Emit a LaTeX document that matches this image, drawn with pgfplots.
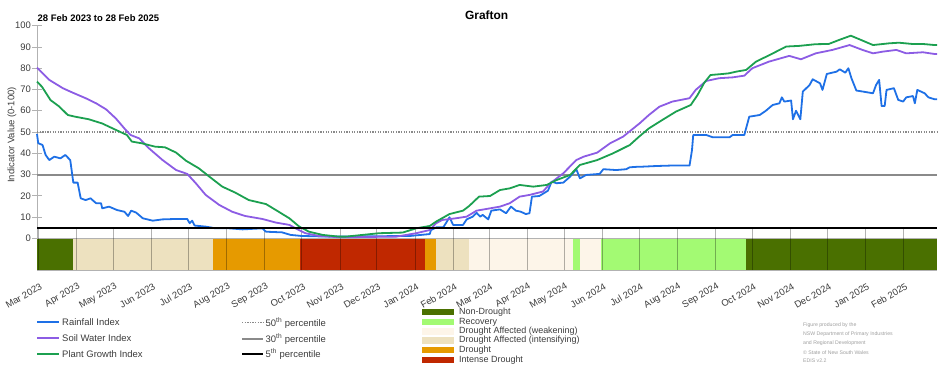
\documentclass[border=0pt]{standalone}
\usepackage{pgfplots}
\pgfplotsset{compat=1.18}
\usepackage{fontspec}
\setmainfont{Liberation Sans}
\definecolor{rain}{RGB}{30,112,230}
\definecolor{soil}{RGB}{140,92,228}
\definecolor{plant}{RGB}{28,160,80}
\definecolor{cND}{RGB}{74,112,0}
\definecolor{cRec}{RGB}{163,250,115}
\definecolor{cWeak}{RGB}{253,245,233}
\definecolor{cInt}{RGB}{237,225,191}
\definecolor{cDr}{RGB}{230,154,0}
\definecolor{cID}{RGB}{192,40,0}
\definecolor{txt}{RGB}{60,60,60}
\definecolor{pct}{RGB}{138,138,138}
\begin{document}
\begin{tikzpicture}
\useasboundingbox (0,0) rectangle (952bp,370bp);
\begin{axis}[
  at={(37bp,99.8bp)}, anchor=south west, scale only axis,
  width=900bp, height=244.5bp,
  xmin=-1, xmax=730, ymin=-15, ymax=100,
  axis lines*=left,
  axis line style={draw=gray!60, line width=0.6bp},
  xtick={0,31,61,92,122,153,184,214,245,275,306,337,366,397,427,458,488,519,550,580,611,641,672,703},
  xticklabels={Mar 2023,Apr 2023,May 2023,Jun 2023,Jul 2023,Aug 2023,Sep 2023,Oct 2023,Nov 2023,Dec 2023,Jan 2024,Feb 2024,Mar 2024,Apr 2024,May 2024,Jun 2024,Jul 2024,Aug 2024,Sep 2024,Oct 2024,Nov 2024,Dec 2024,Jan 2025,Feb 2025},
  xtick style={draw=none},
  xticklabel style={yshift=-11bp, xshift=3bp, rotate=30, anchor=east, inner sep=0pt, font=\fontsize{9.5}{11}\selectfont, text=txt},
  ytick={0,10,...,100},
  ytick style={draw=gray!60, line width=0.6bp},
  major tick length=9bp, tick align=center,
  yticklabel style={font=\fontsize{9.5}{11}\selectfont, text=txt, inner sep=1.5bp},
  /pgf/number format/assume math mode=true,
  clip=false,
]
% drought category band
\addplot[fill=cND, draw=none] coordinates {(-1,-15) (-1,0) (28,0) (28,-15)} --cycle;
\addplot[fill=cInt, draw=none] coordinates {(28,-15) (28,0) (142,0) (142,-15)} --cycle;
\addplot[fill=cDr, draw=none] coordinates {(142,-15) (142,0) (213,0) (213,-15)} --cycle;
\addplot[fill=cID, draw=none] coordinates {(213,-15) (213,0) (314,0) (314,-15)} --cycle;
\addplot[fill=cDr, draw=none] coordinates {(314,-15) (314,0) (323,0) (323,-15)} --cycle;
\addplot[fill=cInt, draw=none] coordinates {(323,-15) (323,0) (350,0) (350,-15)} --cycle;
\addplot[fill=cWeak, draw=none] coordinates {(350,-15) (350,0) (434,0) (434,-15)} --cycle;
\addplot[fill=cRec, draw=none] coordinates {(434,-15) (434,0) (440,0) (440,-15)} --cycle;
\addplot[fill=cWeak, draw=none] coordinates {(440,-15) (440,0) (457,0) (457,-15)} --cycle;
\addplot[fill=cRec, draw=none] coordinates {(457,-15) (457,0) (575,0) (575,-15)} --cycle;
\addplot[fill=cND, draw=none] coordinates {(575,-15) (575,0) (730,0) (730,-15)} --cycle;
\draw[gray!60, line width=0.6bp] (axis cs:-1,0) -- (axis cs:730,0);
\pgfplotsinvokeforeach{0,31,61,92,122,153,184,214,245,275,306,337,366,397,427,458,488,519,550,580,611,641,672,703}{
  \draw[black, opacity=0.3, line width=0.7bp] (axis cs:#1,-15) -- (axis cs:#1,5);
}
% percentile lines
\addplot[pct, line width=1.5bp, dash pattern=on 1.3bp off 1.3bp] coordinates {(-1,50) (730,50)};
\addplot[pct, line width=2bp] coordinates {(-1,30) (730,30)};
% Rainfall
\addplot[rain, line width=1.8bp, line join=round] coordinates {
(-1,49.1) (0,44.7) (3.5,43.9) (6,39.2) (9,36.8) (13,38.4) (18,37.6) (22,39.2) (26,36.8) (28.5,26.2) (32,26.2) (34.5,18.8) (38.5,18) (42.5,18.8) (47,16.5) (51,16.5) (52,14.1) (57.5,14.9) (64,13.3) (70,12.5) (73,10.5) (75.5,13) (79.5,12.1) (85,9.4) (93,8.3) (101,8.9) (112,9.1) (121,9.1) (123,7.1) (125,8.3) (127,6) (136,5.5) (144,4.7) (155,4.7) (166,4.2) (182,4.7) (185,3.1) (198,2.8) (205,1.6) (214,1.1) (236,0.8) (302,1.1) (318,2) (319,3.9) (323.5,5.2) (329,5.2) (331,7) (334,9.9) (337,6.3) (345,6.3) (348,8.9) (353,10.2) (356,12) (359,10.2) (361,11) (365.5,8.9) (368,13) (375,13.6) (380,11.8) (384,14.9) (388,13) (392,12.5) (396,11.4) (399,11.8) (401,19.6) (407,19.9) (414,22.4) (417,26.7) (421,25.9) (426.5,26.2) (432,29) (437,32.5) (440,28.2) (445,29.8) (456,30.3) (459,32.5) (469.5,32.1) (477.5,32.5) (480.5,33.4) (488,33.7) (491,33.7) (502,34) (513,34.2) (529,34.2) (531,41.5) (532,48.6) (542.5,48.6) (548,47.5) (561.5,47.5) (564,48.6) (573.5,48.6) (577.5,57.2) (586,58) (591,60) (596.5,62.7) (602,63.5) (604,66.3) (606,64.3) (611.5,64.8) (613,56) (615.5,60) (619,56) (621,69) (626.5,72.1) (629,74.8) (635,72.9) (637,69.8) (640.5,77.3) (648.5,78.4) (651,79.5) (655.5,77.9) (658,80) (660.5,75.3) (664.5,69.5) (670,69) (678,68.2) (680.5,72.1) (683,74.5) (685,62.2) (687.5,62.2) (689,69.8) (695,70.6) (698.5,65.1) (702.5,64.3) (705,66.3) (710.5,66.9) (712,63.5) (714,69.8) (720,68.2) (723,66.3) (728,65.4) (730,65.4)};
% Soil water
\addplot[soil, line width=1.8bp, line join=round] coordinates {
(-1,80.3) (9,74.5) (20,70.6) (28,68.5) (38.5,65.9) (47,63.5) (55,60.7) (63,56.4) (71,51) (75,48.6) (82,47) (90,42.3) (101,36.8) (112,32.1) (121,30.3) (128,25.9) (136,20.4) (147,15.7) (157.5,12.5) (168,10.5) (182,9.1) (193,7.4) (204,6.3) (209,4.7) (217,2.4) (228,1.1) (244,0.5) (250,0.5) (291,0.8) (307,2.4) (318,3.9) (323,7) (328,8.6) (339,9.4) (348,10.2) (356,13) (367,14.1) (375,14.9) (383,16.5) (391,19.6) (399,20.4) (410,22) (416,25.9) (426.5,30.6) (437,36.8) (443,38.4) (454,40.3) (464.5,44.7) (475,47.8) (488.5,54.1) (496,58) (504.5,61.9) (515,64.3) (529,65.9) (534,69.8) (542.5,74) (553,75.3) (564,75.7) (573.5,76.5) (580,80) (593.5,83.1) (610,85.8) (619.5,84.2) (631.5,87) (645,88.6) (659,90.9) (669.5,88.6) (678,87) (686,87.8) (697,88.6) (705,87) (718.5,87.5) (728,86.7) (730,86.7)};
% Plant growth
\addplot[plant, line width=1.8bp, line join=round] coordinates {
(-1,73.7) (3,71.3) (10,65) (17,62) (24,58) (30,57.2) (41,56) (52,54) (63,51) (72,48.6) (76,45.5) (84,44.7) (95,43.1) (103,42.8) (112,40.3) (120,36.5) (130.5,32.9) (139,29) (149.5,24.3) (160,21.5) (171,18) (185,16.1) (193,13.3) (204,9.4) (212,5.5) (220,3.1) (231,1.6) (244,0.8) (250,0.8) (277,2.4) (296,2.7) (307,4.7) (318,5.8) (323,7.8) (334,11.4) (345,13) (350,15.2) (358,19.6) (367,19.9) (375,22.7) (383,23.5) (391,25.1) (402,24.3) (413,25.1) (421,27.4) (432,29.8) (440,34.5) (454,36.8) (467,40) (480.5,43.9) (488,47.8) (496,51.7) (507,55.7) (518,59.6) (530,62.7) (535.5,67.4) (541,73.2) (546,76.8) (556,77.3) (561,77.6) (567,78.4) (575,79.2) (583,83.1) (594,86.2) (607.5,90.2) (618,90.5) (631.5,91.3) (642,91.4) (650.5,93.3) (660,95.3) (669.5,93) (678,90.9) (691,91.7) (699,92) (710,91.4) (718.5,91.4) (728,90.9) (730,90.9)};
% 5th percentile
\addplot[black, line width=2.2bp] coordinates {(-1,5) (730,5)};
\end{axis}
% titles
\node[font=\bfseries\fontsize{12}{14}\selectfont, inner sep=0] at (486.7bp,355bp) {Grafton};
\node[font=\bfseries\fontsize{9.5}{11}\selectfont, anchor=west, inner sep=0] at (37.5bp,351.7bp) {28 Feb 2023 to 28 Feb 2025};
\node[rotate=90, font=\fontsize{9.5}{11}\selectfont, text=txt, inner sep=0] at (12bp,235bp) {Indicator Value (0-100)};
% legend: indices
\begin{scope}[every node/.style={anchor=west, inner sep=0, font=\fontsize{9.5}{11}\selectfont, text=txt}]
\draw[rain, line width=2bp] (37bp,48.3bp) -- (59bp,48.3bp); \node at (62bp,48.3bp) {Rainfall Index};
\draw[soil, line width=2bp] (37bp,32.3bp) -- (59bp,32.3bp); \node at (62bp,32.3bp) {Soil Water Index};
\draw[plant, line width=2bp] (37bp,16bp) -- (59bp,16bp); \node at (62bp,16bp) {Plant Growth Index};
\draw[pct, line width=1.5bp, dash pattern=on 1.3bp off 1.3bp] (242bp,47.3bp) -- (263bp,47.3bp); \node at (265.5bp,47.3bp) {50\textsuperscript{th} percentile};
\draw[pct, line width=2bp] (242bp,31bp) -- (263bp,31bp); \node at (265.5bp,31bp) {30\textsuperscript{th} percentile};
\draw[black, line width=2bp] (242bp,16bp) -- (263bp,16bp); \node at (265.5bp,16bp) {5\textsuperscript{th} percentile};
\end{scope}
% legend: categories
\begin{scope}[every node/.style={anchor=west, inner sep=0, font=\fontsize{9}{10}\selectfont, text=txt}]
\fill[cND] (421.7bp,54.5bp) rectangle (454bp,61.2bp); \node at (459bp,57.8bp) {Non-Drought};
\fill[cRec] (421.7bp,44.7bp) rectangle (454bp,51.4bp); \node at (459bp,48bp) {Recovery};
\fill[cWeak] (421.7bp,35.2bp) rectangle (454bp,41.9bp); \node at (459bp,38.5bp) {Drought Affected (weakening)};
\fill[cInt] (421.7bp,26.2bp) rectangle (454bp,32.9bp); \node at (459bp,29.5bp) {Drought Affected (intensifying)};
\fill[cDr] (421.7bp,16.7bp) rectangle (454bp,23.4bp); \node at (459bp,20bp) {Drought};
\fill[cID] (421.7bp,6.7bp) rectangle (454bp,13.4bp); \node at (459bp,10bp) {Intense Drought};
\end{scope}
% credit
\begin{scope}[every node/.style={anchor=west, inner sep=0, font=\fontsize{5.2}{6}\selectfont, text=gray!75}]
\node at (803bp,45bp) {Figure produced by the};
\node at (803bp,35.7bp) {NSW Department of Primary Industries};
\node at (803bp,26.7bp) {and Regional Development};
\node at (803bp,17.7bp) {© State of New South Wales};
\node at (803bp,9bp) {EDIS v2.2};
\end{scope}
\end{tikzpicture}
\end{document}
